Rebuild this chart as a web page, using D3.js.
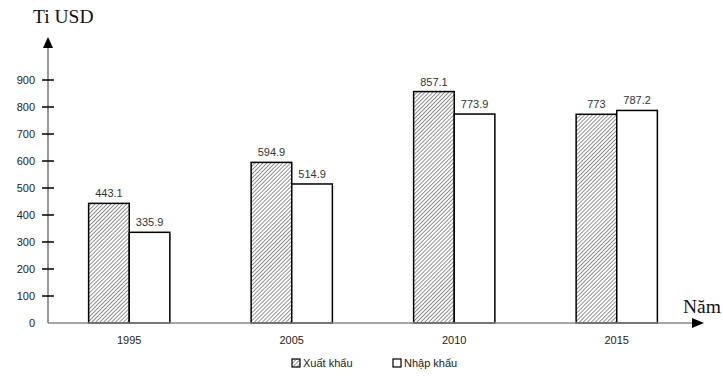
<!DOCTYPE html>
<html>
<head>
<meta charset="utf-8">
<script src="https://cdn.jsdelivr.net/npm/d3@7"></script>
<style>
  body { margin: 0; background: #fff; }
  svg { display: block; }
</style>
</head>
<body>
<svg id="chart" width="723" height="381"></svg>
<script>
// Kim ngạch xuất, nhập khẩu (tỉ USD)
const years = ["1995", "2005", "2010", "2015"];
const exportValues = [443.1, 594.9, 857.1, 773];
const importValues = [335.9, 514.9, 773.9, 787.2];
const yTicks = [0, 100, 200, 300, 400, 500, 600, 700, 800, 900];
const seriesNames = ["Xuất khẩu", "Nhập khẩu"];

const svg = d3.select("#chart");
const x0 = 48, y0 = 323;
const sansFont = "'Liberation Sans', Arial, sans-serif";
const serifFont = "'Liberation Serif', 'Times New Roman', serif";

const y = d3.scaleLinear().domain([0, 900]).range([y0, 80]);
const x = d3.scaleBand().domain(years).range([x0, 698]).paddingInner(0.5).paddingOuter(0.25);
const xs = d3.scaleBand().domain(seriesNames).range([0, x.bandwidth()]);

// hatch pattern for exports
const defs = svg.append("defs");
const pat = defs.append("pattern")
  .attr("id", "hatch").attr("patternUnits", "userSpaceOnUse")
  .attr("width", 2.8).attr("height", 2.8)
  .attr("patternTransform", "rotate(45)");
pat.append("rect").attr("width", 2.8).attr("height", 2.8).attr("fill", "#fff");
pat.append("line").attr("x1", 0).attr("y1", 0).attr("x2", 0).attr("y2", 2.8)
  .attr("stroke", "#555").attr("stroke-width", 1.3);

// y axis line with arrow
svg.append("line").attr("x1", x0).attr("y1", y0).attr("x2", x0).attr("y2", 40)
  .attr("stroke", "#555").attr("stroke-width", 1.2);
svg.append("path").attr("d", `M${x0 - 5},48 L${x0},37 L${x0 + 5},48 Z`).attr("fill", "#000");

// y ticks
svg.append("g").selectAll("line").data(yTicks.slice(1)).join("line")
  .attr("x1", x0 - 6).attr("x2", x0 + 6)
  .attr("y1", d => y(d)).attr("y2", d => y(d))
  .attr("stroke", "#000").attr("stroke-width", 1.5);
svg.append("g").selectAll("text").data(yTicks).join("text")
  .attr("x", 35).attr("y", d => y(d) + 4)
  .attr("text-anchor", "end")
  .attr("font-family", sansFont).attr("font-size", 11).attr("fill", "#222")
  .text(d => d);

// bars
const groups = svg.append("g").selectAll("g").data(years).join("g")
  .attr("transform", d => `translate(${x(d)},0)`);

groups.append("rect")
  .attr("x", xs("Xuất khẩu")).attr("width", xs.bandwidth())
  .attr("y", (d, i) => y(exportValues[i])).attr("height", (d, i) => y0 - y(exportValues[i]))
  .attr("fill", "url(#hatch)").attr("stroke", "#000").attr("stroke-width", 1.5);
groups.append("rect")
  .attr("x", xs("Nhập khẩu")).attr("width", xs.bandwidth())
  .attr("y", (d, i) => y(importValues[i])).attr("height", (d, i) => y0 - y(importValues[i]))
  .attr("fill", "#fff").attr("stroke", "#000").attr("stroke-width", 1.5);

// value labels
groups.append("text")
  .attr("x", xs("Xuất khẩu") + xs.bandwidth() / 2)
  .attr("y", (d, i) => y(exportValues[i]) - 6)
  .attr("text-anchor", "middle").attr("font-family", sansFont).attr("font-size", 11).attr("fill", "#333")
  .text((d, i) => exportValues[i]);
groups.append("text")
  .attr("x", xs("Nhập khẩu") + xs.bandwidth() / 2)
  .attr("y", (d, i) => y(importValues[i]) - 6)
  .attr("text-anchor", "middle").attr("font-family", sansFont).attr("font-size", 11).attr("fill", "#333")
  .text((d, i) => importValues[i]);

// x axis with arrow
svg.append("line").attr("x1", x0).attr("y1", y0).attr("x2", 700).attr("y2", y0)
  .attr("stroke", "#888").attr("stroke-width", 1.5);
svg.append("path").attr("d", `M692,${y0 - 5} L704,${y0} L692,${y0 + 5} Z`).attr("fill", "#000");

// year labels
groups.append("text")
  .attr("x", x.bandwidth() / 2).attr("y", 344)
  .attr("text-anchor", "middle").attr("font-family", sansFont).attr("font-size", 11).attr("fill", "#222")
  .text(d => d);

// axis titles
svg.append("text").attr("x", 33).attr("y", 23)
  .attr("font-family", serifFont).attr("font-size", 19.5).attr("fill", "#111").text("Ti USD");
svg.append("text").attr("x", 683).attr("y", 313)
  .attr("font-family", serifFont).attr("font-size", 19.5).attr("fill", "#111").text("Năm");

// legend
const legend = svg.append("g").attr("transform", "translate(292,367)");
const items = legend.selectAll("g").data(seriesNames).join("g")
  .attr("transform", (d, i) => `translate(${i * 101},0)`);
items.append("rect").attr("x", 0).attr("y", -8).attr("width", 8).attr("height", 8)
  .attr("fill", (d, i) => i === 0 ? "url(#hatch)" : "#fff")
  .attr("stroke", "#000").attr("stroke-width", 1.2);
items.append("text").attr("x", 11).attr("y", 0)
  .attr("font-family", sansFont).attr("font-size", 11).attr("fill", "#222")
  .text(d => d);
</script>
</body>
</html>
